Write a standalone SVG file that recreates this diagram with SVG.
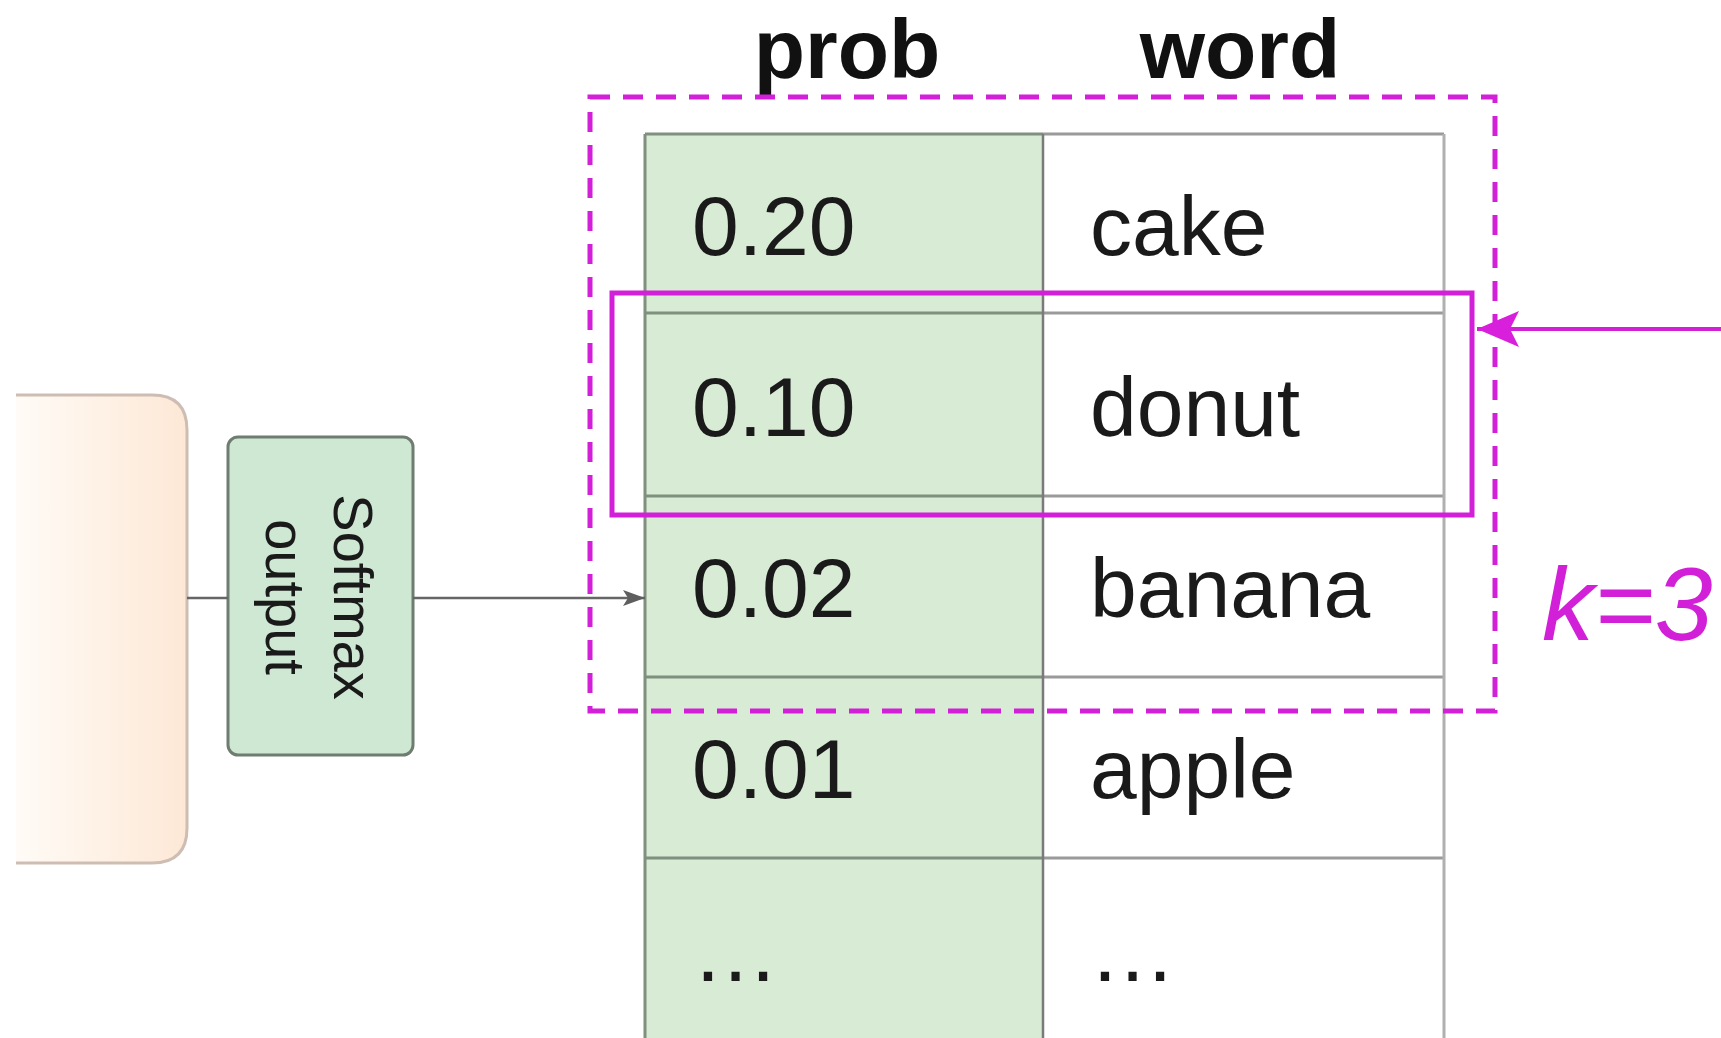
<svg xmlns="http://www.w3.org/2000/svg" width="1721" height="1038" viewBox="0 0 1721 1038">
<defs>
<linearGradient id="peach" x1="0" y1="0" x2="1" y2="0">
<stop offset="0" stop-color="#fffbf6"/>
<stop offset="1" stop-color="#fde8d6"/>
</linearGradient>
<marker id="grayHead" markerWidth="22" markerHeight="16" refX="22" refY="8" orient="auto" markerUnits="userSpaceOnUse">
<path d="M0,0 L22,8 L0,16 L5,8 Z" fill="#5e5e5e"/>
</marker>
<marker id="magHead" markerWidth="42" markerHeight="36" refX="42" refY="18" orient="auto" markerUnits="userSpaceOnUse">
<path d="M0,0 L42,18 L0,36 L9,18 Z" fill="#d81fdc"/>
</marker>
</defs>
<style>
.txt{font-family:"Liberation Sans",Arial,sans-serif;fill:#1a1a1a}
.cell{font-size:84px}
.head{font-size:84px;font-weight:bold;fill:#111}
.mag{stroke:#d21fd8;fill:none}
.grid{stroke:#9a9a9a;stroke-width:3}
.ggrid{stroke:#7f907f;stroke-width:3}
</style>
<rect width="1721" height="1038" fill="#ffffff"/>

<g id="encoder">
<path d="M16,395 H152 Q187,395 187,430 V828 Q187,863 152,863 H16 Z" fill="url(#peach)" stroke="none"/>
<path d="M16,395 H152 Q187,395 187,430 V828 Q187,863 152,863 H16" fill="none" stroke="#cdbdb3" stroke-width="3"/>
</g>

<g id="softmax">
<rect x="228" y="437" width="185" height="318" rx="10" fill="#cfe8d3" stroke="#6e7d70" stroke-width="3"/>
<g transform="translate(334,597) rotate(90)">
<text class="txt" x="0" y="0" font-size="56" text-anchor="middle" fill="#1d2b1e">Softmax</text>
<text class="txt" x="0" y="68" font-size="56" text-anchor="middle" fill="#1d2b1e">output</text>
</g>
</g>

<g id="table">
<rect x="645" y="134" width="398" height="920" fill="#d8ebd5"/>
<rect x="1043" y="134" width="401" height="920" fill="#ffffff"/>
<line class="ggrid" x1="645" y1="134" x2="1043" y2="134"/>
<line class="grid" x1="1043" y1="134" x2="1444" y2="134"/>
<line class="ggrid" x1="645" y1="313" x2="1043" y2="313" stroke-width="5"/>
<line class="grid" x1="1043" y1="313" x2="1444" y2="313" stroke-width="5"/>
<line class="ggrid" x1="645" y1="496" x2="1043" y2="496"/>
<line class="grid" x1="1043" y1="496" x2="1444" y2="496"/>
<line class="ggrid" x1="645" y1="677" x2="1043" y2="677"/>
<line class="grid" x1="1043" y1="677" x2="1444" y2="677"/>
<line class="ggrid" x1="645" y1="858" x2="1043" y2="858"/>
<line class="grid" x1="1043" y1="858" x2="1444" y2="858"/>
<line x1="645" y1="134" x2="645" y2="1038" stroke="#7f907f" stroke-width="3"/>
<line x1="1043" y1="134" x2="1043" y2="1038" stroke="#7a7a7a" stroke-width="2.5"/>
<line x1="1444" y1="134" x2="1444" y2="1038" stroke="#b0b0b0" stroke-width="3"/>
<text class="txt head" x="847" y="78" text-anchor="middle">prob</text>
<text class="txt head" x="1240" y="78" text-anchor="middle">word</text>
<text class="txt cell" x="692" y="255">0.20</text>
<text class="txt cell" x="1090" y="255">cake</text>
<text class="txt cell" x="692" y="436">0.10</text>
<text class="txt cell" x="1090" y="436">donut</text>
<text class="txt cell" x="692" y="617">0.02</text>
<text class="txt cell" x="1090" y="617">banana</text>
<text class="txt cell" x="692" y="798">0.01</text>
<text class="txt cell" x="1090" y="798">apple</text>
<text class="txt" x="692" y="981" font-size="87">…</text>
<text class="txt" x="1089" y="981" font-size="87">…</text>
</g>

<g id="topk-box">
<rect class="mag" x="590" y="97" width="905" height="614" stroke-width="5" stroke-dasharray="20 13"/>
</g>

<g id="selected">
<rect class="mag" x="612" y="293" width="860" height="222" stroke-width="5"/>
</g>

<g id="k-label">
<text x="1542" y="640" font-family="Liberation Sans, Arial, sans-serif" font-style="italic" font-size="104" fill="#d21fd8">k=3</text>
</g>

<g id="connectors">
<line x1="187" y1="598" x2="228" y2="598" stroke="#666" stroke-width="2.5"/>
<line x1="413" y1="598" x2="645" y2="598" stroke="#666" stroke-width="2.5" marker-end="url(#grayHead)"/>
<line x1="1721" y1="329" x2="1477" y2="329" stroke="#d21fd8" stroke-width="4" marker-end="url(#magHead)"/>
</g>
</svg>
